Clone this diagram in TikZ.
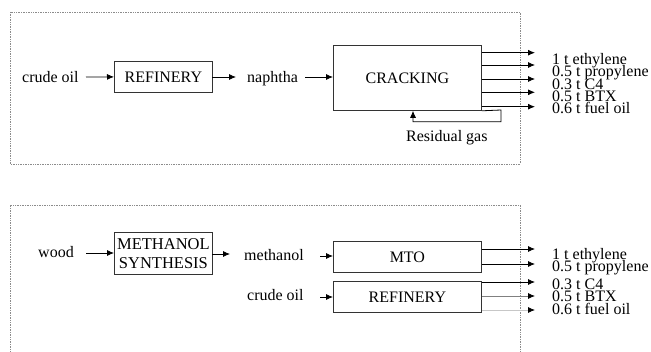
\documentclass[tikz,border=0pt]{standalone}
\usepackage{fontspec}
\setmainfont{Liberation Serif}
\usetikzlibrary{arrows.meta}
\begin{document}
\begin{tikzpicture}[x=1pt,y=-1pt,
  every node/.style={font=\fontsize{16}{19}\selectfont, inner sep=0pt},
  procbox/.style={draw=black!80, line width=0.8pt, minimum height=31pt, anchor=north west},
  flow/.style={line width=0.8pt, -{Latex[length=7pt,width=6pt,color=black]}},
  frame/.style={draw=black!45, densely dotted, line width=0.7pt},
  lbl/.style={anchor=base west}]
\useasboundingbox (0,0) rectangle (651,352);
% ---------- top frame
\draw[frame] (10,12) rectangle (520,164);
% top row
\node[lbl] (co1) at (22,83) {crude oil};
\node[procbox, minimum width=98pt] (ref1) at (114,61) {REFINERY};
\node[lbl] (nap) at (247,83) {naphtha};
\node[procbox, minimum width=148pt, minimum height=65pt] (crack) at (333,45) {CRACKING};
\coordinate (a1) at (86,77);
\draw[flow] (a1) -- (ref1.west);
\coordinate (a2s) at (212,77);
\coordinate (a2e) at (236,77);
\draw[flow] (a2s) -- (a2e);
\coordinate (a3) at (305,77);
\draw[flow] (a3) -- (a3 -| crack.west);
% outputs
\foreach \i/\y in {1/52.7,2/65,3/79,4/92.3,5/106.7}{
  \coordinate (t\i) at (535,\y);
  \draw[flow] (t\i -| crack.east) -- (t\i);
}
\node[lbl] (tl1) at (552,65) {1 t ethylene};
\node[lbl] (tl2) at (552,76.7) {0.5 t propylene};
\node[lbl] (tl3) at (552,90) {0.3 t C4};
\node[lbl] (tl4) at (552,102) {0.5 t BTX};
\node[lbl] (tl5) at (552,113.5) {0.6 t fuel oil};
% residual gas loop
\coordinate (r1) at (501,110);
\coordinate (r2) at (501,121.7);
\coordinate (r3) at (413,121.7);
\draw[flow] (crack.south east) -- (r1) -- (r2) -- (r3) -- (r3 |- crack.south);
\node[lbl] (res) at (406,141.5) {Residual gas};
% ---------- bottom frame
\draw[frame] (10,360) -- (10,205) -- (520,205) -- (520,360);
\node[lbl] (wood) at (38,258) {wood};
\node[draw=black!80, line width=0.8pt, minimum width=98pt, minimum height=42pt, anchor=north west, align=center, font=\fontsize{16.5}{19}\selectfont] (meth) at (114,232) {METHANOL\\SYNTHESIS};
\node[lbl] (mol) at (244,261) {methanol};
\node[procbox, minimum width=148pt] (mto) at (333,241) {MTO};
\node[lbl] (co2) at (247,301) {crude oil};
\node[procbox, minimum width=148pt] (ref2) at (333,281) {REFINERY};
\coordinate (b1) at (86,253);
\draw[flow] (b1) -- (b1 -| meth.west);
\coordinate (b2s) at (212,254);
\coordinate (b2e) at (230,254);
\draw[flow] (b2s) -- (b2e);
\coordinate (b3) at (320,256);
\draw[flow] (b3) -- (b3 -| mto.west);
\coordinate (b4) at (320,297);
\draw[flow] (b4) -- (b4 -| ref2.west);
\coordinate (m1) at (535,249);
\coordinate (m2) at (535,264);
\draw[flow] (m1 -| mto.east) -- (m1);
\draw[flow] (m2 -| mto.east) -- (m2);
\coordinate (n1) at (535,282);
\coordinate (n2) at (535,296);
\coordinate (n3) at (535,310);
\draw[flow] (n1 -| ref2.east) -- (n1);
\draw[flow, black!50] (n2 -| ref2.east) -- (n2);
\draw[flow, black!22] (n3 -| ref2.east) -- (n3);
\node[lbl] (bl1) at (552,260) {1 t ethylene};
\node[lbl] (bl2) at (552,272) {0.5 t propylene};
\node[lbl] (bl3) at (552,290) {0.3 t C4};
\node[lbl] (bl4) at (552,302) {0.5 t BTX};
\node[lbl] (bl5) at (552,315) {0.6 t fuel oil};
\end{tikzpicture}
\end{document}
